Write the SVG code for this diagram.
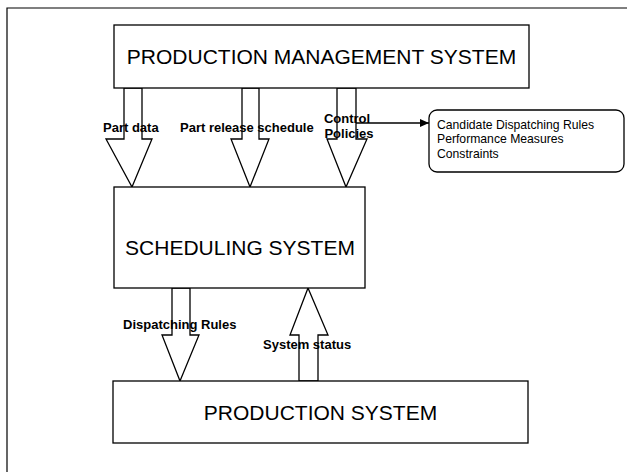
<svg xmlns="http://www.w3.org/2000/svg" width="627" height="472" viewBox="0 0 627 472">
<defs>
<style>
.box{fill:#fff;stroke:#000;stroke-width:1.3}
.blk{fill:#fff;stroke:#000;stroke-width:1.3;stroke-linejoin:miter}
.big{font-family:"Liberation Sans",Arial,sans-serif;font-size:21px;fill:#000;text-anchor:middle}
.lbl{font-family:"Liberation Sans",Arial,sans-serif;font-size:13px;font-weight:bold;fill:#000}
.note{font-family:"Liberation Sans",Arial,sans-serif;font-size:12.2px;fill:#000}
</style>
<marker id="ah" markerWidth="9" markerHeight="8" refX="9" refY="4" orient="auto" markerUnits="userSpaceOnUse">
<path d="M0,0 L9,4 L0,8 Z" fill="#000"/>
</marker>
</defs>
<rect width="627" height="472" fill="#fff"/>
<g id="frame" fill="none" stroke="#000" stroke-width="1.2">
<path d="M7,472 L7,8 L627,8"/>
</g>
<g id="connectors">
<polygon class="blk" points="124,88 142,88 142,139 152,139 132,187 106,139 124,139"/>
<polygon class="blk" points="242,88 259,88 259,139 269,139 250,187 231,139 242,139"/>
<polygon class="blk" points="337,88 356,88 356,139 367,139 346,187 327,139 337,139"/>
<line x1="356" y1="123" x2="429" y2="123" stroke="#000" stroke-width="1.6" marker-end="url(#ah)"/>
<polygon class="blk" points="172,288 190,288 190,335 199,335 180,381 162,335 172,335"/>
<polygon class="blk" points="308,288 328,335 318,335 318,381 299,381 299,335 290,335"/>
</g>
<g id="pms">
<rect class="box" x="114" y="25" width="415" height="63"/>
<text class="big" x="321.5" y="64">PRODUCTION MANAGEMENT SYSTEM</text>
</g>
<g id="sched">
<rect class="box" x="114" y="187" width="251" height="101"/>
<text class="big" x="240" y="255">SCHEDULING SYSTEM</text>
</g>
<g id="prod">
<rect class="box" x="113" y="381" width="415" height="62"/>
<text class="big" x="320.5" y="420">PRODUCTION SYSTEM</text>
</g>
<g id="policies">
<rect class="box" x="429" y="110" width="195" height="62" rx="8" ry="8"/>
<text class="note" x="437" y="129">Candidate Dispatching Rules</text>
<text class="note" x="437" y="143">Performance Measures</text>
<text class="note" x="437" y="158">Constraints</text>
</g>
<g id="labels">
<text class="lbl" x="103" y="132">Part data</text>
<text class="lbl" x="180" y="132">Part release schedule</text>
<text class="lbl" x="347" y="123" text-anchor="middle">Control</text>
<text class="lbl" x="349" y="138" text-anchor="middle">Policies</text>
<text class="lbl" x="123" y="329">Dispatching Rules</text>
<text class="lbl" x="263" y="349">System status</text>
</g>
</svg>
